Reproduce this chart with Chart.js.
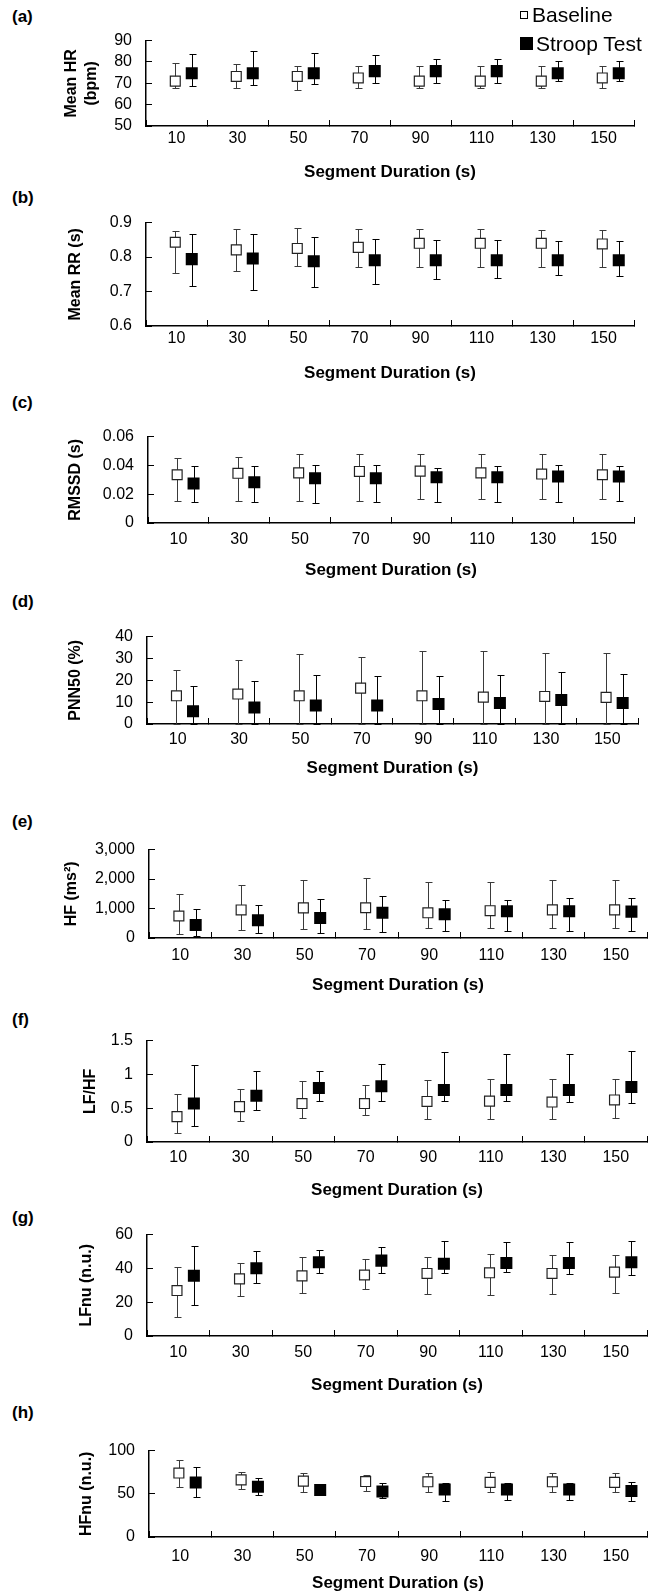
<!DOCTYPE html>
<html>
<head>
<meta charset="utf-8">
<script src="https://cdn.jsdelivr.net/npm/chart.js@4.4.1/dist/chart.umd.min.js"></script>
<style>
  body { margin: 0; background: #fff; width: 663px; height: 1596px; position: relative; overflow: hidden;
         font-family: "Liberation Sans", Arial, Helvetica, sans-serif; color: #000; }
  canvas { position: absolute; left: 0; }
  .tag { position: absolute; left: 12px; font-weight: bold; font-size: 17px; line-height: 20px; }
  #legend { position: absolute; left: 520px; top: 0; font-size: 21px; z-index: 5; }
  #legend .item { height: 29px; display: flex; align-items: center; }
  #legend .box { display: inline-block; box-sizing: border-box; }
  #legend .hollow { width: 8px; height: 8px; border: 1px solid #000; background: #fff; margin-right: 4px; }
  #legend .solid { width: 13px; height: 13px; background: #000; margin-right: 3px; }
</style>
</head>
<body>
<div id="legend">
  <div class="item"><span class="box hollow"></span>Baseline</div>
  <div class="item"><span class="box solid"></span>Stroop Test</div>
</div>
<script>
const durations = ['10', '30', '50', '70', '90', '110', '130', '150'];

// (a) Mean HR (bpm)
const hrBase     = [71.0, 73.2, 73.2, 72.5, 71.0, 71.0, 71.0, 72.5];
const hrBaseHi   = [79.5, 79.2, 78.1, 78.0, 78.0, 78.0, 78.0, 78.0];
const hrBaseLo   = [68.0, 68.0, 66.8, 68.0, 68.0, 68.0, 68.0, 68.0];
const hrStroop   = [74.7, 74.7, 74.7, 75.7, 75.7, 75.7, 74.7, 74.7];
const hrStroopHi = [83.8, 85.1, 84.1, 83.1, 81.3, 81.6, 80.6, 80.6];
const hrStroopLo = [68.8, 69.0, 69.9, 70.0, 70.0, 70.0, 71.0, 71.0];

// (b) Mean RR (s)
const rrBase     = [0.843, 0.821, 0.825, 0.828, 0.840, 0.840, 0.840, 0.838];
const rrBaseHi   = [0.876, 0.880, 0.885, 0.881, 0.881, 0.880, 0.878, 0.878];
const rrBaseLo   = [0.755, 0.760, 0.774, 0.771, 0.771, 0.771, 0.771, 0.770];
const rrStroop   = [0.794, 0.796, 0.788, 0.791, 0.791, 0.791, 0.791, 0.791];
const rrStroopHi = [0.866, 0.866, 0.858, 0.853, 0.850, 0.849, 0.847, 0.848];
const rrStroopLo = [0.715, 0.705, 0.712, 0.722, 0.735, 0.740, 0.748, 0.745];

// (c) RMSSD (s)
const rmBase     = [0.0335, 0.0345, 0.0348, 0.0358, 0.0360, 0.0348, 0.0340, 0.0335];
const rmBaseHi   = [0.0450, 0.0460, 0.0482, 0.0476, 0.0480, 0.0480, 0.0480, 0.0480];
const rmBaseLo   = [0.0155, 0.0155, 0.0155, 0.0155, 0.0166, 0.0166, 0.0166, 0.0166];
const rmStroop   = [0.0275, 0.0283, 0.0310, 0.0310, 0.0317, 0.0317, 0.0323, 0.0323];
const rmStroopHi = [0.0397, 0.0393, 0.0400, 0.0400, 0.0385, 0.0397, 0.0400, 0.0397];
const rmStroopLo = [0.0149, 0.0145, 0.0139, 0.0145, 0.0145, 0.0149, 0.0149, 0.0155];

// (d) PNN50 (%)
const pnBase     = [12.9, 13.7, 12.9, 16.4, 12.9, 12.3, 12.6, 12.2];
const pnBaseHi   = [24.9, 29.5, 32.2, 30.7, 33.6, 33.2, 32.7, 32.5];
const pnBaseLo   = [0, 0, 0, 0, 0, 0, 0, 0];
const pnStroop   = [5.8, 7.5, 8.5, 8.5, 9.2, 9.6, 11.0, 9.6];
const pnStroopHi = [17.4, 19.5, 22.5, 21.9, 21.9, 22.5, 23.6, 22.9];
const pnStroopLo = [0, 0, 0, 0, 0, 0, 0, 0];

// (e) HF (ms^2)
const hfBase     = [747, 952, 1024, 1027, 855, 926, 956, 956];
const hfBaseHi   = [1484, 1801, 1975, 2040, 1892, 1912, 1984, 1984];
const hfBaseLo   = [133, 276, 297, 315, 356, 356, 336, 336];
const hfStroop   = [440, 604, 676, 855, 804, 905, 905, 895];
const hfStroopHi = [993, 1116, 1331, 1424, 1282, 1282, 1363, 1343];
const hfStroopLo = [72, 174, 174, 203, 224, 224, 254, 254];

// (f) LF/HF
const lhBase     = [0.376, 0.524, 0.569, 0.569, 0.600, 0.605, 0.591, 0.622];
const lhBaseHi   = [0.712, 0.788, 0.900, 0.840, 0.914, 0.936, 0.936, 0.936];
const lhBaseLo   = [0.134, 0.313, 0.354, 0.400, 0.345, 0.336, 0.345, 0.354];
const lhStroop   = [0.569, 0.685, 0.800, 0.824, 0.770, 0.770, 0.770, 0.815];
const lhStroopHi = [1.133, 1.048, 1.057, 1.150, 1.330, 1.300, 1.300, 1.340];
const lhStroopLo = [0.233, 0.475, 0.605, 0.605, 0.605, 0.605, 0.591, 0.582];

// (g) LFnu (n.u.)
const lfBase     = [26.9, 33.8, 35.6, 36.1, 37.0, 37.4, 37.0, 37.8];
const lfBaseHi   = [40.7, 43.2, 46.8, 45.5, 47.0, 48.3, 47.7, 47.7];
const lfBaseLo   = [11.2, 23.7, 25.5, 27.8, 25.1, 24.2, 25.1, 25.5];
const lfStroop   = [35.6, 40.1, 43.7, 44.6, 42.7, 43.2, 43.2, 43.7];
const lfStroopHi = [53.0, 50.2, 50.8, 52.8, 56.2, 55.8, 55.8, 56.4];
const lfStroopLo = [18.6, 31.4, 37.0, 37.0, 37.0, 37.6, 36.7, 36.3];

// (h) HFnu (n.u.)
const hnBase     = [74.0, 66.1, 64.7, 64.2, 63.9, 63.2, 63.9, 63.2];
const hnBaseHi   = [88.6, 75.4, 73.7, 71.2, 74.4, 75.4, 74.4, 74.4];
const hnBaseLo   = [58.1, 55.0, 52.6, 53.7, 51.9, 51.6, 51.6, 51.6];
const hnStroop   = [63.0, 58.1, 54.3, 52.6, 55.1, 55.1, 55.1, 53.3];
const hnStroopHi = [80.6, 67.8, 61.6, 62.1, 62.1, 62.1, 62.1, 63.9];
const hnStroopLo = [46.7, 48.1, 48.8, 45.6, 42.1, 42.8, 42.8, 42.1];

// where each panel's plot box sits on the page
const frames = [
  {top: 31,   bottom: 126,  left: 146, right: 634, labelY: 139,  titleY: 172,  yTitleX: 72, tagY: 17},
  {top: 213,  bottom: 326,  left: 146, right: 634, labelY: 339,  titleY: 373,  yTitleX: 76, tagY: 198},
  {top: 427,  bottom: 523,  left: 148, right: 634, labelY: 540,  titleY: 570,  yTitleX: 76, tagY: 403},
  {top: 627,  bottom: 724,  left: 147, right: 638, labelY: 740,  titleY: 768,  yTitleX: 76, tagY: 602},
  {top: 840,  bottom: 938,  left: 149, right: 647, labelY: 956,  titleY: 985,  yTitleX: 72, tagY: 822},
  {top: 1031, bottom: 1142, left: 147, right: 647, labelY: 1158, titleY: 1190, yTitleX: 91, tagY: 1020},
  {top: 1225, bottom: 1336, left: 147, right: 647, labelY: 1353, titleY: 1385, yTitleX: 87, tagY: 1218},
  {top: 1441, bottom: 1537, left: 149, right: 647, labelY: 1557, titleY: 1583, yTitleX: 87, tagY: 1413}
];

const panels = [
  {tag: '(a)', yTitle: ['Mean HR', '(bpm)'], min: 50, max: 90, step: 10,
   base: hrBase, baseHi: hrBaseHi, baseLo: hrBaseLo, str: hrStroop, strHi: hrStroopHi, strLo: hrStroopLo},
  {tag: '(b)', yTitle: 'Mean RR (s)', min: 0.6, max: 0.9, step: 0.1,
   base: rrBase, baseHi: rrBaseHi, baseLo: rrBaseLo, str: rrStroop, strHi: rrStroopHi, strLo: rrStroopLo},
  {tag: '(c)', yTitle: 'RMSSD (s)', min: 0, max: 0.06, step: 0.02,
   base: rmBase, baseHi: rmBaseHi, baseLo: rmBaseLo, str: rmStroop, strHi: rmStroopHi, strLo: rmStroopLo},
  {tag: '(d)', yTitle: 'PNN50 (%)', min: 0, max: 40, step: 10,
   base: pnBase, baseHi: pnBaseHi, baseLo: pnBaseLo, str: pnStroop, strHi: pnStroopHi, strLo: pnStroopLo},
  {tag: '(e)', yTitle: 'HF (ms\u00B2)', min: 0, max: 3000, step: 1000,
   base: hfBase, baseHi: hfBaseHi, baseLo: hfBaseLo, str: hfStroop, strHi: hfStroopHi, strLo: hfStroopLo},
  {tag: '(f)', yTitle: 'LF/HF', min: 0, max: 1.5, step: 0.5,
   base: lhBase, baseHi: lhBaseHi, baseLo: lhBaseLo, str: lhStroop, strHi: lhStroopHi, strLo: lhStroopLo},
  {tag: '(g)', yTitle: 'LFnu (n.u.)', min: 0, max: 60, step: 20,
   base: lfBase, baseHi: lfBaseHi, baseLo: lfBaseLo, str: lfStroop, strHi: lfStroopHi, strLo: lfStroopLo},
  {tag: '(h)', yTitle: 'HFnu (n.u.)', min: 0, max: 100, step: 50,
   base: hnBase, baseHi: hnBaseHi, baseLo: hnBaseLo, str: hnStroop, strHi: hnStroopHi, strLo: hnStroopLo}
];

Chart.defaults.font.family = '"Liberation Sans", Arial, Helvetica, sans-serif';
Chart.defaults.color = '#000';

// whiskers with caps, drawn under the markers
const errorBars = {
  id: 'errorBars',
  beforeDatasetsDraw(chart) {
    const ctx = chart.ctx;
    const yScale = chart.scales.y;
    chart.data.datasets.forEach((ds, di) => {
      const meta = chart.getDatasetMeta(di);
      ctx.save();
      ctx.strokeStyle = ds.whiskerColor;
      ctx.lineWidth = 1;
      meta.data.forEach((pt, i) => {
        const x = Math.round(pt.x) + 0.5;
        const yHi = Math.round(yScale.getPixelForValue(ds.hi[i])) + 0.5;
        const yLo = Math.round(yScale.getPixelForValue(ds.lo[i])) + 0.5;
        ctx.beginPath();
        ctx.moveTo(x, yHi); ctx.lineTo(x, yLo);
        ctx.moveTo(x - 3, yHi); ctx.lineTo(x + 4, yHi);
        ctx.moveTo(x - 3, yLo); ctx.lineTo(x + 4, yLo);
        ctx.stroke();
      });
      ctx.restore();
    });
  }
};

panels.forEach((p, k) => {
  const f = frames[k];
  const canvasTop = f.top - 20;
  const H = Math.round(f.titleY - canvasTop + 12);

  const tag = document.createElement('div');
  tag.className = 'tag';
  tag.textContent = p.tag;
  tag.style.top = (f.tagY - 10) + 'px';
  document.body.appendChild(tag);

  const cv = document.createElement('canvas');
  cv.width = 663;
  cv.height = H;
  cv.style.top = canvasTop + 'px';
  document.body.appendChild(cv);

  const axisGrid = {drawOnChartArea: false, drawTicks: true, tickLength: -6, color: '#000', lineWidth: 1};
  const axisBorder = {display: true, color: '#000', width: 1.5};

  new Chart(cv, {
    type: 'line',
    data: {
      labels: durations,
      datasets: [
        {
          label: 'Baseline', xAxisID: 'xd', showLine: false,
          data: p.base.map((v, i) => ({x: i - 0.02, y: v})),
          hi: p.baseHi, lo: p.baseLo, whiskerColor: '#3a3a3a',
          pointStyle: 'rect', pointRadius: 7, pointBackgroundColor: '#fff',
          pointBorderColor: '#222', pointBorderWidth: 1.2
        },
        {
          label: 'Stroop Test', xAxisID: 'xd', showLine: false,
          data: p.str.map((v, i) => ({x: i + 0.25, y: v})),
          hi: p.strHi, lo: p.strLo, whiskerColor: '#000',
          pointStyle: 'rect', pointRadius: 8.5, pointBackgroundColor: '#000',
          pointBorderColor: '#000', pointBorderWidth: 0
        }
      ]
    },
    options: {
      responsive: false,
      animation: false,
      events: [],
      layout: {padding: {top: 20, right: 663 - f.right, bottom: 0, left: 0}},
      plugins: {legend: {display: false}, tooltip: {enabled: false}},
      scales: {
        x: {
          type: 'category', offset: true,
          grid: Object.assign({offset: true}, axisGrid),
          border: axisBorder,
          ticks: {padding: f.labelY - f.bottom - 3.6, font: {size: 16}, color: '#000', maxRotation: 0, autoSkip: false},
          title: {display: true, text: 'Segment Duration (s)', color: '#000',
                  font: {size: 17, weight: 'bold'},
                  padding: {top: 0, bottom: H - (f.titleY - canvasTop) - 10.2}},
          afterFit: s => { s.height = H - (f.bottom - canvasTop); }
        },
        xd: {type: 'linear', display: false, min: -0.5, max: 7.5},
        y: {
          min: p.min, max: p.max,
          grid: axisGrid,
          border: axisBorder,
          ticks: {
            stepSize: p.step, autoSkip: false, padding: 20, font: {size: 16}, color: '#000',
            callback: v => p.max >= 1000 ? Number(v).toLocaleString('en-US') : +Number(v).toFixed(3)
          },
          title: {display: true, text: p.yTitle, color: '#000',
                  font: {size: 16, weight: 'bold'},
                  padding: {top: f.yTitleX - 9.6, bottom: 0}},
          afterFit: s => { s.width = f.left; }
        }
      }
    },
    plugins: [errorBars]
  });
});
</script>
</body>
</html>
